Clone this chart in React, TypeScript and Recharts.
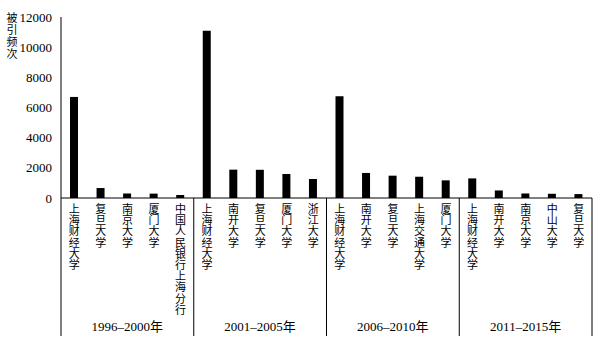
import React from 'react';
import { BarChart, Bar, XAxis, YAxis } from 'recharts';

const groups = ['1996–2000年', '2001–2005年', '2006–2010年', '2011–2015年'];
const schools = [
  '上海财经大学', '复旦大学', '南京大学', '厦门大学', '中国人民银行上海分行',
  '上海财经大学', '南开大学', '复旦大学', '厦门大学', '浙江大学',
  '上海财经大学', '南开大学', '复旦大学', '上海交通大学', '厦门大学',
  '上海财经大学', '南开大学', '南京大学', '中山大学', '复旦大学',
];
const citations = [
  6700, 660, 300, 290, 200,
  11090, 1880, 1870, 1590, 1260,
  6740, 1660, 1480, 1410, 1170,
  1300, 500, 300, 280, 260,
];
const yTicks = [0, 2000, 4000, 6000, 8000, 10000, 12000];
const perGroup = 5;

const data = schools.map((name, i) => ({ name, value: citations[i] }));

const CJK = '"Noto Sans CJK SC", "Noto Sans", sans-serif';
const SERIF = '"Liberation Serif", "DejaVu Serif", "Noto Sans CJK SC", serif';

function SchoolTick(props: any) {
  const { x, y, payload, index } = props;
  const band = (props.width || 531) / schools.length;
  const chars = String(payload.value).split('');
  const i = typeof index === 'number' ? index : payload.index;
  const lineBottom = y + 138;
  return (
    <g>
      {chars.map((c, k) => (
        <text key={k} x={x} y={y + 15 + k * 11.2} textAnchor="middle" fontSize={11} fontFamily={CJK} fill="#000">
          {c}
        </text>
      ))}
      {i % perGroup === 0 && (
        <line x1={x - band / 2} x2={x - band / 2} y1={y} y2={lineBottom} stroke="#000" strokeWidth={1} />
      )}
      {i === schools.length - 1 && (
        <line x1={x + band / 2} x2={x + band / 2} y1={y} y2={lineBottom} stroke="#000" strokeWidth={1} />
      )}
      {i % perGroup === 2 && (
        <text x={x} y={y + 133} textAnchor="middle" fontSize={13} fontFamily={SERIF} fill="#000">
          {groups[Math.floor(i / perGroup)]}
        </text>
      )}
    </g>
  );
}

function YLabel() {
  return (
    <g>
      {'被引频次'.split('').map((c, k) => (
        <text key={k} x={12} y={22 + k * 12} textAnchor="middle" fontSize={11} fontFamily={CJK} fill="#000">
          {c}
        </text>
      ))}
    </g>
  );
}

export default function App() {
  return (
    <div style={{ position: 'absolute', left: 0, top: 0, background: '#fff' }}>
      <BarChart width={602} height={345} data={data} margin={{ top: 17, right: 10, left: 0, bottom: 0 }}>
        <XAxis
          dataKey="name"
          interval={0}
          height={147}
          tickLine={false}
          tickSize={0}
          tickMargin={0}
          axisLine={{ stroke: '#000' }}
          tick={<SchoolTick />}
        />
        <YAxis
          width={61}
          domain={[0, 12000]}
          ticks={yTicks}
          tickLine={false}
          tickSize={0}
          tickMargin={9}
          axisLine={{ stroke: '#000' }}
          tick={{ fontSize: 13, fill: '#000', fontFamily: SERIF }}
          label={<YLabel />}
        />
        <Bar dataKey="value" fill="#000" barSize={8} isAnimationActive={false} />
      </BarChart>
    </div>
  );
}
